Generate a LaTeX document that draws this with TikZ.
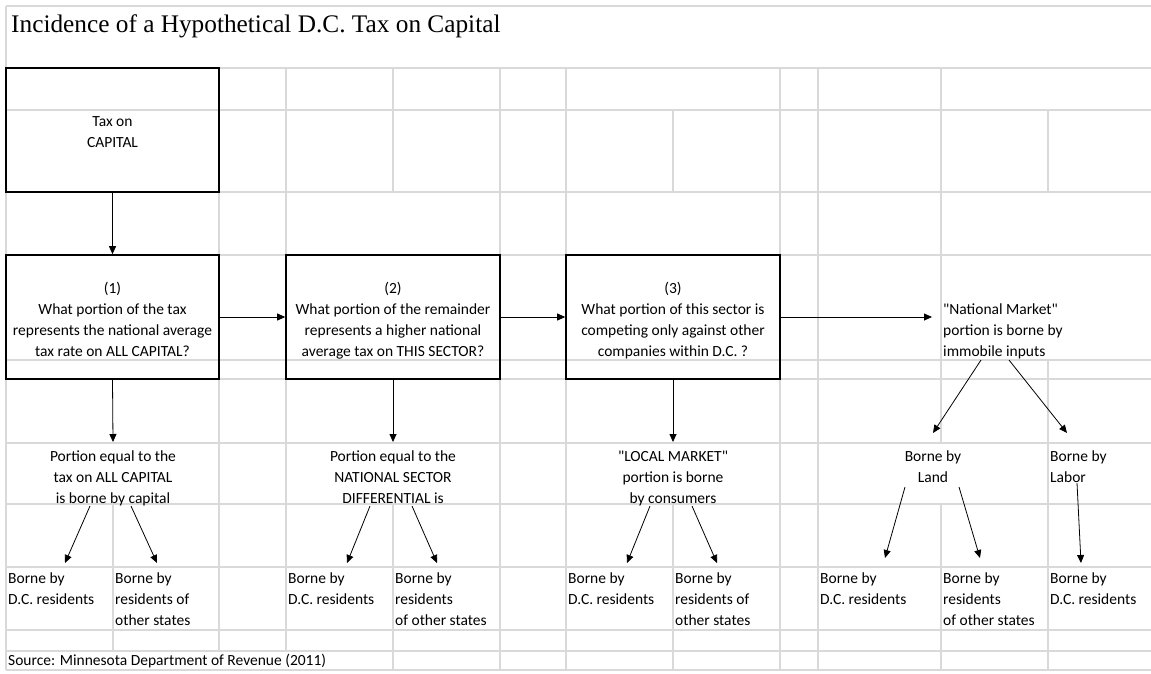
\documentclass[tikz,border=0pt]{standalone}
\usepackage{fontspec}
\setmainfont{Carlito}
\newfontfamily\titlefont{Liberation Serif}
\usetikzlibrary{arrows.meta,calc}
\definecolor{gridgray}{HTML}{D9D9D9}
\def\pageW{1151}
\def\pageH{673}
\def\gridL{6}
\def\rowTop{451}
\def\botTop{573}
\def\q{\textquotedbl}
\tikzset{
	gridline/.style={draw=gridgray, line width=1.2pt},
	cell/.style={inner sep=0pt, font=\fontsize{15.5}{21}\selectfont},
	box/.style={draw=black, line width=1.6pt, inner sep=0pt, minimum height=124pt},
	boxtext/.style={cell, align=center},
	lcell/.style={cell, align=left, anchor=north west},
	ccell/.style={cell, align=center, anchor=north},
	flow/.style={-{Triangle[length=8pt,width=7pt]}, line width=0.8pt}
}

\begin{document}
\begin{tikzpicture}[x=1pt,y=-1pt]

	%page and background
	\useasboundingbox (0,0) rectangle (\pageW,\pageH);
	\fill[white] (0,0) rectangle (\pageW,\pageH);

	%spreadsheet grid, vertical bits only where the cells are not merged
	\foreach \x/\ya/\yb in {6/6/670, 113/504/651, 219/68/651, 286/68/651, 393/68/192, 393/504/670,
		500/68/670, 566/68/670, 673/110/192, 673/504/670, 780/68/670, 818/68/670,
		941/68/443, 941/504/670, 1048/110/192, 1048/360/670}
		\draw[gridline] (\x,\ya) -- (\x,\yb);
	\foreach \y in {6,68,110,192,255,360,379,443,504,567,630,651,670}
		\draw[gridline] (\gridL,\y) -- (\pageW,\y);

	%title
	\node[cell, anchor=base west, font=\titlefont\fontsize{25.3}{30}\selectfont] (title) at (11,32) {Incidence of a Hypothetical D.C. Tax on Capital};

	%question boxes, text set a little below the middle as in the sheet
	\node[box, minimum width=213pt] (tax) at (112.5,130) {};
	\node[box, minimum width=213pt] (q1) at (112.5,317) {};
	\node[box, minimum width=214pt] (q2) at (393,317) {};
	\node[box, minimum width=214pt] (q3) at (673,317) {};
	\node[boxtext] (taxtxt) at ([yshift=-2pt]tax.center) {Tax on\\CAPITAL};
	\node[boxtext] (q1txt) at ([yshift=-2pt]q1.center) {(1)\\What portion of the tax\\represents the national average\\tax rate on ALL CAPITAL?};
	\node[boxtext] (q2txt) at ([yshift=-4pt]q2.center) {(2)\\What portion of the remainder\\represents a higher national\\average tax on THIS SECTOR?};
	\node[boxtext] (q3txt) at ([yshift=-4pt]q3.center) {(3)\\What portion of this sector is\\competing only against other\\companies within D.C. ?};
	\node[lcell] (natmkt) at (943,303.5) {\q National Market\q\\portion is borne by\\immobile inputs};

	%middle row
	\node[ccell] (allcap) at (113,\rowTop) {Portion equal to the\\tax on ALL CAPITAL\\is borne by capital};
	\node[ccell] (secdiff) at (393,\rowTop) {Portion equal to the\\NATIONAL SECTOR\\DIFFERENTIAL is};
	\node[ccell] (local) at (673,\rowTop) {\q LOCAL MARKET\q\\portion is borne\\by consumers};
	\node[ccell] (land) at (933,\rowTop) {Borne by\\Land};
	\node[lcell] (labor) at (1050,\rowTop) {Borne by\\Labor};

	%who finally pays
	\node[lcell] (resA) at (8,\botTop) {Borne by\\D.C. residents};
	\node[lcell] (othA) at (115,\botTop) {Borne by\\residents of\\other states};
	\node[lcell] (resB) at (288,\botTop) {Borne by\\D.C. residents};
	\node[lcell] (othB) at (395,\botTop) {Borne by\\residents\\of other states};
	\node[lcell] (resC) at (568,\botTop) {Borne by\\D.C. residents};
	\node[lcell] (othC) at (675,\botTop) {Borne by\\residents of\\other states};
	\node[lcell] (resD) at (820,\botTop) {Borne by\\D.C. residents};
	\node[lcell] (othD) at (943,\botTop) {Borne by\\residents\\of other states};
	\node[lcell] (resE) at (1050,\botTop) {Borne by\\D.C. residents};

	%source line
	\node[cell, anchor=base west] (source) at (8,665) {Source: Minnesota Department of Revenue (2011)};

	%arrows between the boxes
	\draw[flow] (tax.south) -- (q1.north);
	\draw[flow] (q1.east) -- (q2.west);
	\draw[flow] (q2.east) -- (q3.west);
	\draw[flow] (q3.east) -- ($(q3.east -| natmkt.west)+(-11,0)$);
	\draw[flow] (q1.south) -- ([yshift=9pt]allcap.north);
	\draw[flow] (q2.south) -- ([yshift=9pt]secdiff.north);
	\draw[flow] (q3.south) -- ([yshift=9pt]local.north);
	\draw[flow] ([xshift=38pt,yshift=-56.5pt]natmkt.north west) -- ([yshift=18pt]land.north);
	\draw[flow] ([xshift=66pt,yshift=-56.5pt]natmkt.north west) -- ([xshift=17pt,yshift=18pt]labor.north west);

	%arrows down to the residents
	\draw[flow] ([xshift=-23pt,yshift=-55pt]allcap.north) -- ([xshift=57pt,yshift=10pt]resA.north west);
	\draw[flow] ([xshift=18pt,yshift=-55pt]allcap.north) -- ([xshift=42pt,yshift=10pt]othA.north west);
	\draw[flow] ([xshift=-23pt,yshift=-55pt]secdiff.north) -- ([xshift=59pt,yshift=10pt]resB.north west);
	\draw[flow] ([xshift=19pt,yshift=-55pt]secdiff.north) -- ([xshift=42pt,yshift=10pt]othB.north west);
	\draw[flow] ([xshift=-23pt,yshift=-55pt]local.north) -- ([xshift=59pt,yshift=10pt]resC.north west);
	\draw[flow] ([xshift=19pt,yshift=-55pt]local.north) -- ([xshift=42pt,yshift=10pt]othC.north west);
	\draw[flow] ([xshift=-28pt,yshift=-36pt]land.north) -- ([xshift=65pt,yshift=15pt]resD.north west);
	\draw[flow] ([xshift=26pt,yshift=-36pt]land.north) -- ([xshift=37pt,yshift=15pt]othD.north west);
	\draw[flow] ([xshift=27pt,yshift=-32pt]labor.north west) -- ([xshift=31pt,yshift=10pt]resE.north west);

\end{tikzpicture}
\end{document}
